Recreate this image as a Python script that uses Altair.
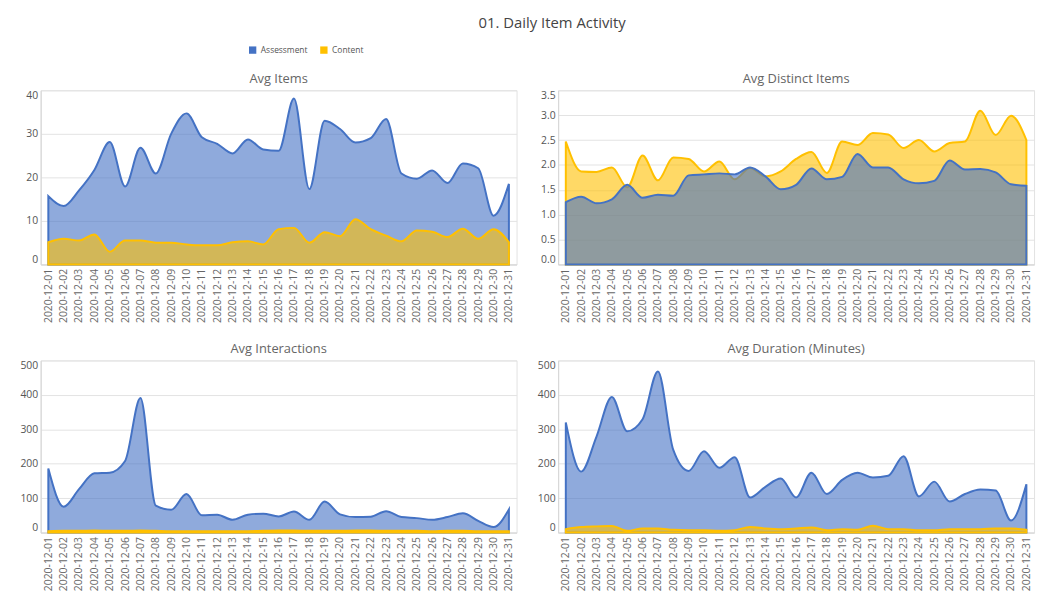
import altair as alt
import pandas as pd

DATES = [f"2020-12-{d:02d}" for d in range(1, 32)]
SERIES = ["Assessment", "Content"]
COLORS = ["#4472c4", "#ffc000"]

ITEMS_ASSESS = [15.7, 13.4, 17.0, 21.7, 28.1, 17.9, 26.8, 20.9, 30.0, 34.7, 29.2, 27.7, 25.5, 28.7, 26.4, 26.1,
                38.1, 17.3, 33.0, 31.1, 28.0, 29.0, 33.4, 20.9, 19.7, 21.6, 18.7, 23.2, 22.1, 11.2, 18.5]
ITEMS_CONTENT = [5.1, 5.9, 5.5, 6.9, 2.9, 5.5, 5.5, 5.0, 5.0, 4.6, 4.4, 4.4, 5.1, 5.3, 4.6, 8.1,
                 8.4, 5.0, 7.4, 6.5, 10.4, 8.1, 6.6, 5.3, 7.8, 7.5, 6.3, 8.2, 5.9, 8.1, 5.1]

DIST_ASSESS = [1.25, 1.36, 1.23, 1.31, 1.60, 1.34, 1.40, 1.38, 1.79, 1.81, 1.83, 1.81, 1.95, 1.77, 1.51, 1.60,
               1.93, 1.71, 1.76, 2.22, 1.95, 1.95, 1.71, 1.63, 1.68, 2.09, 1.91, 1.92, 1.85, 1.61, 1.58]
DIST_CONTENT = [2.47, 1.87, 1.86, 1.95, 1.55, 2.19, 1.69, 2.15, 2.12, 1.87, 2.07, 1.71, 1.94, 1.77, 1.87, 2.12,
                2.26, 1.84, 2.47, 2.40, 2.64, 2.61, 2.34, 2.50, 2.27, 2.44, 2.47, 3.09, 2.60, 2.99, 2.50]

INTER_ASSESS = [186, 75, 126, 172, 174, 208, 391, 78, 66, 112, 50, 52, 37, 52, 55, 47,
                61, 37, 90, 53, 45, 46, 62, 45, 42, 37, 45, 56, 34, 16, 67]
INTER_CONTENT = [4, 5, 5, 6, 5, 5, 6, 5, 4, 4, 4, 4, 4, 4, 5, 6,
                 6, 5, 5, 5, 6, 6, 5, 5, 5, 4, 5, 5, 4, 4, 4]

DUR_ASSESS = [320, 177, 279, 394, 294, 329, 468, 240, 179, 236, 188, 219, 102, 133, 157, 102,
              174, 112, 153, 174, 160, 165, 222, 105, 148, 90, 112, 125, 122, 35, 140]
DUR_CONTENT = [10, 16, 18, 19, 5, 12, 12, 8, 7, 7, 5, 7, 16, 12, 10, 12,
               15, 7, 10, 8, 20, 10, 10, 7, 7, 10, 10, 10, 12, 12, 8]

PANELS = [
    ("items", "Avg Items", ITEMS_ASSESS, ITEMS_CONTENT, [0, 40], [0, 10, 20, 30, 40], "d", "Content", 176),
    ("dist", "Avg Distinct Items", DIST_ASSESS, DIST_CONTENT, [0, 3.5], [0, 0.5, 1, 1.5, 2, 2.5, 3, 3.5], ".1f", "Assessment", 176),
    ("inter", "Avg Interactions", INTER_ASSESS, INTER_CONTENT, [0, 500], [0, 100, 200, 300, 400, 500], "d", "Content", 174),
    ("dur", "Avg Duration (Minutes)", DUR_ASSESS, DUR_CONTENT, [0, 500], [0, 100, 200, 300, 400, 500], "d", "Content", 174),
]

rows = []
for key, _t, a, c, *_ in PANELS:
    for d, va, vc in zip(DATES, a, c):
        rows.append({"metric": key, "date": d, "series": "Assessment", "value": va})
        rows.append({"metric": key, "date": d, "series": "Content", "value": vc})
df = pd.DataFrame(rows)

FONT = "Open Sans"
cscale = alt.Scale(domain=SERIES, range=COLORS)


def panel(key, title, ydom, yvals, yfmt, top, h):
    sub = df[df.metric == key]
    base = alt.Chart(sub).encode(
        x=alt.X("date:O", sort=DATES, scale=alt.Scale(type="point", padding=0.5),
                axis=alt.Axis(title=None, labelAngle=270, labelPadding=4, minExtent=62, maxExtent=62,
                              labelFontSize=10.5, labelColor="#666666")),
        y=alt.Y("value:Q", scale=alt.Scale(domain=ydom, nice=False),
                axis=alt.Axis(title=None, values=yvals, format=yfmt, labelPadding=3, minExtent=30, maxExtent=30,
                              labelFontSize=10.5, labelColor="#555555", labelFlush=True)),
        color=alt.Color("series:N", scale=cscale,
                        legend=alt.Legend(title=None, orient="none", direction="horizontal",
                                          legendX=210, legendY=-45, symbolType="square", symbolSize=55,
                                          symbolOpacity=1, labelFontSize=8.5, labelColor="#555555",
                                          columnPadding=12, symbolStrokeWidth=0)),
        stroke=alt.Stroke("series:N", scale=cscale, legend=None),
    )
    bottom = [s for s in SERIES if s != top][0]
    mk = dict(interpolate="monotone", fillOpacity=0.6, strokeWidth=2)
    layers = [
        base.transform_filter(alt.datum.series == bottom).mark_area(**mk),
        base.transform_filter(alt.datum.series == top).mark_area(**mk),
    ]
    return alt.layer(*layers).properties(
        width=481, height=h,
        title=alt.TitleParams(title, fontSize=13, color="#666666", fontWeight="normal", offset=4,
                              frame="group", font=FONT),
    )


charts = [panel(k, t, yd, yv, yf, top, h) for k, t, a, c, yd, yv, yf, top, h in PANELS]

chart = alt.vconcat(
    alt.hconcat(charts[0], charts[1], spacing=10),
    alt.hconcat(charts[2], charts[3], spacing=10),
    spacing=16,
).properties(
    title=alt.TitleParams("01. Daily Item Activity", fontSize=15, color="#444444", fontWeight="normal",
                          font=FONT, anchor="middle", dx=30, offset=15),
    padding={"left": 2, "top": 5, "right": 5, "bottom": 5},
).configure(
    font=FONT,
).configure_view(
    stroke="#e2e2e2",
).configure_axis(
    ticks=False, domainColor="#d6d6d6", gridColor="#e3e3e3", labelFont=FONT,
).configure_axisX(
    grid=False,
).configure_legend(
    labelFont=FONT,
)

chart.save("out.html", embed_options={"renderer": "svg", "actions": False})
